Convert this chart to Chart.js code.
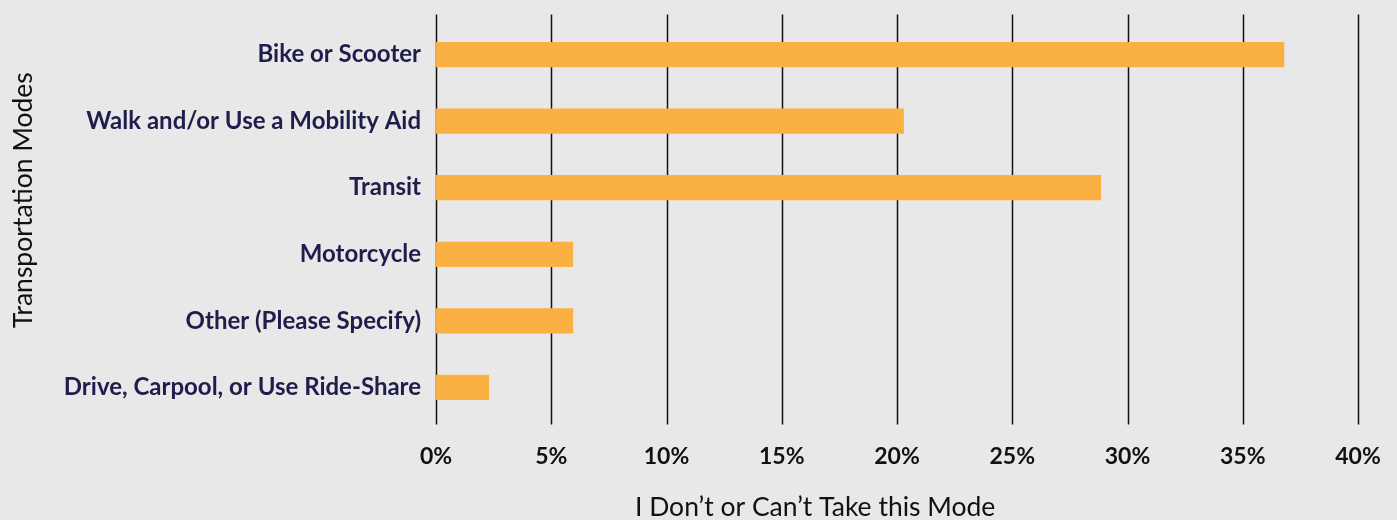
<!DOCTYPE html>
<html>
<head>
<meta charset="utf-8">
<script src="https://cdn.jsdelivr.net/npm/chart.js@4.4.0/dist/chart.umd.min.js"></script>
<style>
  html, body { margin: 0; padding: 0; background: #e8e8e8; }
  #wrap { width: 1397px; height: 520px; }
</style>
</head>
<body>
<div id="wrap"><canvas id="modesChart"></canvas></div>
<script>
// data
const modes = [
    'Bike or Scooter',
    'Walk and/or Use a Mobility Aid',
    'Transit',
    'Motorcycle',
    'Other (Please Specify)',
    'Drive, Carpool, or Use Ride-Share'
];
const cantTake = [36.8, 20.3, 28.85, 5.95, 5.95, 2.3];
const xTicks = [0, 5, 10, 15, 20, 25, 30, 35, 40];
const xTitle = 'I Don\u2019t or Can\u2019t Take this Mode';
const yTitle = 'Transportation Modes';

const titleFont = '26.5px Lato, "Open Sans", sans-serif';

// vertical grid lines run a little past the bars, like the original
const gridPlugin = {
    id: 'gridLines',
    beforeDatasetsDraw(chart) {
        const x = chart.scales.x;
        const area = chart.chartArea;
        const ctx = chart.ctx;
        ctx.save();
        ctx.strokeStyle = '#111';
        ctx.lineWidth = 1.5;
        xTicks.forEach(v => {
            const px = Math.round(x.getPixelForValue(v)) + 0.5;
            ctx.beginPath();
            ctx.moveTo(px, area.top - 7);
            ctx.lineTo(px, area.bottom + 4);
            ctx.stroke();
        });
        ctx.restore();
    }
};

// axis titles are not centred on the plot in the original, so draw them here
// (the built-in titles stay on, transparent, to keep the layout space)
const titlePlugin = {
    id: 'offTitles',
    afterDraw(chart) {
        const ctx = chart.ctx;
        ctx.save();
        ctx.font = titleFont;
        ctx.fillStyle = '#111';
        ctx.textAlign = 'center';
        ctx.textBaseline = 'middle';
        ctx.fillText(xTitle, chart.width * 0.5835, chart.height - 13);
        ctx.translate(23, chart.height * 0.385);
        ctx.rotate(-Math.PI / 2);
        ctx.fillText(yTitle, 0, 0);
        ctx.restore();
    }
};

Chart.defaults.font.family = 'Lato, "Open Sans", sans-serif';

new Chart(document.getElementById('modesChart').getContext('2d'), {
    type: 'bar',
    data: {
        labels: modes,
        datasets: [{
            label: xTitle,
            data: cantTake,
            backgroundColor: '#fbb043',
            borderWidth: 0,
            barPercentage: 0.38,
            categoryPercentage: 1
        }]
    },
    options: {
        indexAxis: 'y',
        responsive: true,
        maintainAspectRatio: false,
        animation: false,
        layout: { padding: { top: 17, right: 39, left: 15, bottom: -4 } },
        plugins: {
            legend: { display: false },
            tooltip: { enabled: false }
        },
        scales: {
            x: {
                min: 0,
                max: 40,
                afterBuildTicks(axis) {
                    axis.ticks = xTicks.map(v => ({ value: v }));
                },
                grid: { display: false },
                border: { display: false },
                ticks: {
                    padding: 14,
                    color: '#111',
                    font: { size: 23, weight: 'bold' },
                    callback: v => v + '%'
                },
                title: {
                    display: true,
                    text: xTitle,
                    color: 'rgba(0,0,0,0)',
                    font: { size: 26.5 },
                    padding: { top: 8, bottom: 0 }
                }
            },
            y: {
                grid: { display: false },
                border: { display: false },
                ticks: {
                    padding: 7,
                    color: '#1f1d4b',
                    font: { size: 24, weight: 'bold' }
                },
                title: {
                    display: true,
                    text: yTitle,
                    color: 'rgba(0,0,0,0)',
                    font: { size: 26.5 },
                    padding: { top: 0, bottom: 10 }
                }
            }
        }
    },
    plugins: [gridPlugin, titlePlugin]
});
</script>
</body>
</html>
